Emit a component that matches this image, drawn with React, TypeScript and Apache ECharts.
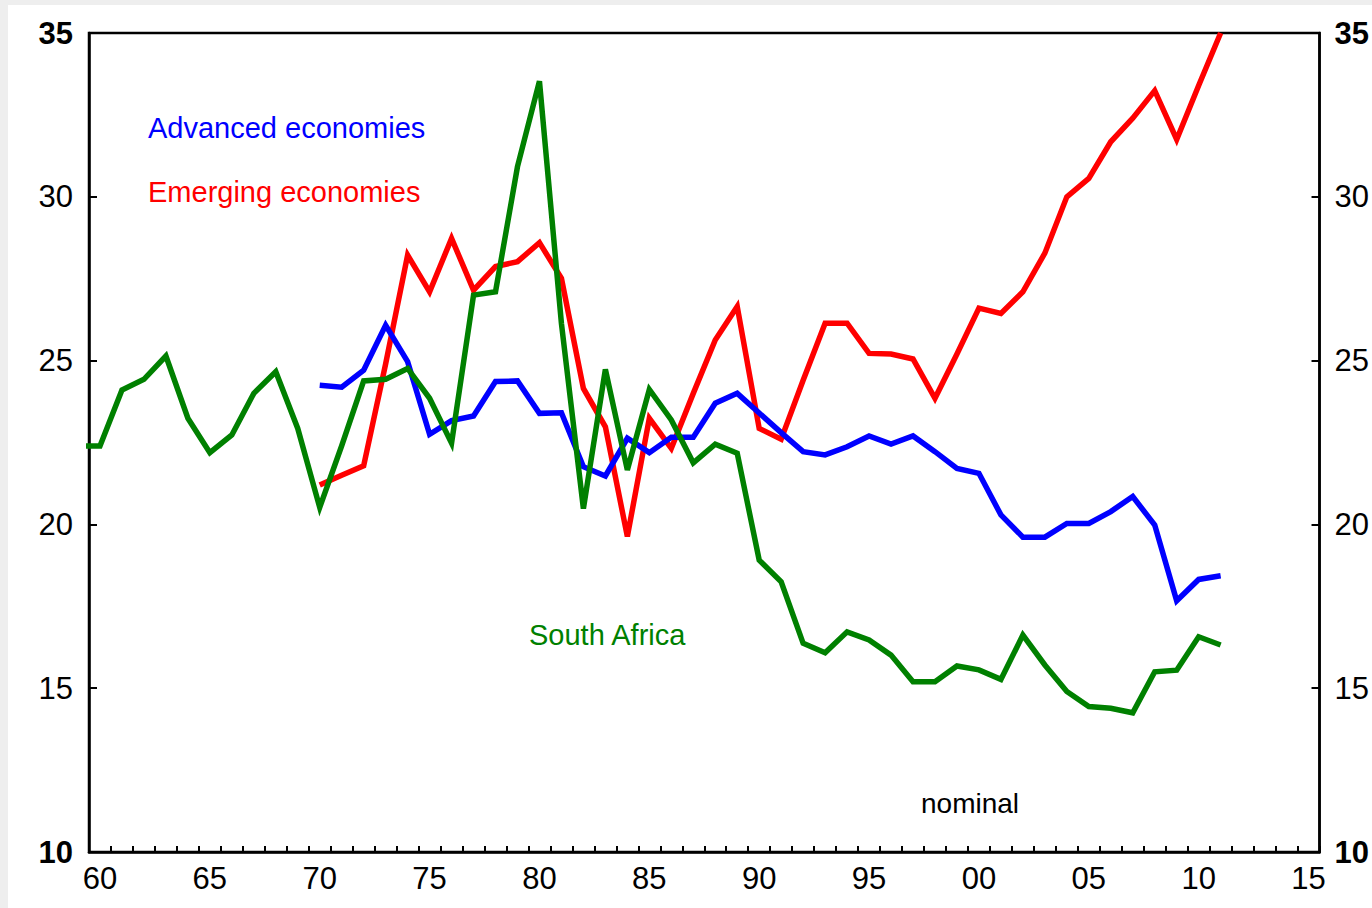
import React, { useEffect, useRef } from "react";
import * as echarts from "echarts";

// Category (year) axis: 1960 .. 2015, labelled every 5 years with two digits
const categoryYears: string[] = Array.from({ length: 56 }, (_, i) => String(1960 + i));

// South Africa (starts 1959 so the line reaches the left edge of the frame)
const southAfricaStart = 1959;
const southAfrica = [
  22.39, 22.39, 24.1, 24.43, 25.14, 23.24, 22.19, 22.73, 24.0, 24.66, 22.93,
  20.52, 22.4, 24.38, 24.43, 24.76, 23.85, 22.48, 27.0, 27.1, 30.92,
  33.53, 26.13, 20.48, 24.73, 21.66, 24.12, 23.19, 21.88, 22.45, 22.17,
  18.91, 18.25, 16.37, 16.08, 16.72, 16.47, 16.01, 15.2, 15.2, 15.68,
  15.56, 15.27, 16.62, 15.71, 14.9, 14.44, 14.39, 14.25, 15.5, 15.55,
  16.57, 16.32,
];

// Advanced economies 1970 .. 2011
const advancedStart = 1970;
const advanced = [
  24.25, 24.19, 24.71, 26.08, 24.97, 22.75, 23.17, 23.31, 24.36, 24.38,
  23.39, 23.41, 21.76, 21.48, 22.63, 22.19, 22.66, 22.66, 23.7, 24.0,
  23.4, 22.8, 22.22, 22.12, 22.37, 22.7, 22.45, 22.7, 22.22, 21.71,
  21.56, 20.29, 19.61, 19.61, 20.03, 20.03, 20.39, 20.85, 19.98, 17.67,
  18.32, 18.43,
];

// Emerging economies 1970 .. 2011
const emergingStart = 1970;
const emerging = [
  21.2, 21.5, 21.79, 24.9, 28.22, 27.1, 28.73, 27.15, 27.87, 28.02,
  28.6, 27.51, 24.15, 22.98, 19.63, 23.24, 22.32, 24.0, 25.63, 26.65,
  22.93, 22.6, 24.4, 26.14, 26.14, 25.22, 25.2, 25.05, 23.85, 25.2,
  26.6, 26.44, 27.1, 28.28, 30.0, 30.56, 31.68, 32.4, 33.24, 31.75,
  33.4, 35.0,
];

const yMin = 10;
const yMax = 35;
const yStep = 5;

const FONT = '"Liberation Sans", Arial, sans-serif';

const toPairs = (start: number, values: number[]) =>
  values.map((v, i) => [start + i, v]);

const yLabelFormatter = (v: number) =>
  v === yMin || v === yMax ? `{b|${v}}` : `${v}`;

const yLabel = (margin: number) => ({
  fontSize: 31,
  color: "#000",
  fontFamily: FONT,
  margin,
  formatter: yLabelFormatter,
  rich: { b: { fontSize: 31, fontWeight: "bold", color: "#000", fontFamily: FONT } },
});

export default function App() {
  const ref = useRef<HTMLDivElement>(null);

  useEffect(() => {
    if (!ref.current) return;
    const chart = echarts.init(ref.current, undefined, { renderer: "svg" });
    const lineSeries = (name: string, color: string, data: number[][], z: number) => ({
      type: "line",
      name,
      xAxisIndex: 1,
      yAxisIndex: 0,
      data,
      symbol: "none",
      showSymbol: false,
      clip: true,
      z,
      lineStyle: { color, width: 5.5, join: "miter", miterLimit: 4 },
      itemStyle: { color },
      emphasis: { disabled: true },
    });
    chart.setOption({
      animation: false,
      backgroundColor: "#ffffff",
      grid: {
        left: 89,
        top: 33,
        width: 1233,
        height: 819,
        show: true,
        borderColor: "#000",
        borderWidth: 2.5,
        backgroundColor: "transparent",
      },
      xAxis: [
        {
          type: "category",
          data: categoryYears,
          boundaryGap: true,
          position: "bottom",
          axisLine: { show: true, lineStyle: { color: "#000", width: 2.5 } },
          axisTick: {
            show: true,
            inside: true,
            length: 6,
            interval: 0,
            alignWithLabel: false,
            lineStyle: { color: "#000", width: 2 },
          },
          axisLabel: {
            interval: 4,
            fontSize: 31,
            color: "#000",
            fontFamily: FONT,
            margin: 11,
            formatter: (v: string) => v.slice(2),
          },
          splitLine: { show: false },
        },
        {
          type: "value",
          min: 1959.5,
          max: 2015.5,
          show: false,
          splitLine: { show: false },
        },
      ],
      yAxis: [
        {
          type: "value",
          position: "left",
          min: yMin,
          max: yMax,
          interval: yStep,
          axisLine: { show: true, lineStyle: { color: "#000", width: 2.5 } },
          axisTick: { show: true, inside: true, length: 8, lineStyle: { color: "#000", width: 2 } },
          axisLabel: yLabel(16),
          splitLine: { show: false },
        },
        {
          type: "value",
          position: "right",
          min: yMin,
          max: yMax,
          interval: yStep,
          axisLine: { show: true, lineStyle: { color: "#000", width: 2.5 } },
          axisTick: { show: true, inside: true, length: 8, lineStyle: { color: "#000", width: 2 } },
          axisLabel: yLabel(15),
          splitLine: { show: false },
        },
      ],
      series: [
        lineSeries("Emerging economies", "#ff0000", toPairs(emergingStart, emerging), 2),
        lineSeries("Advanced economies", "#0000ff", toPairs(advancedStart, advanced), 3),
        lineSeries("South Africa", "#008000", toPairs(southAfricaStart, southAfrica), 4),
      ],
      graphic: [
        { type: "rect", shape: { x: 0, y: 0, width: 8, height: 908 }, style: { fill: "#eeeeee" }, silent: true },
        { type: "rect", shape: { x: 0, y: 0, width: 1372, height: 5 }, style: { fill: "#eeeeee" }, silent: true },
        {
          type: "text",
          x: 148,
          y: 128,
          style: { text: "Advanced economies", fill: "#0000ff", fontSize: 29, fontFamily: FONT, verticalAlign: "middle", align: "left" },
        },
        {
          type: "text",
          x: 148,
          y: 192,
          style: { text: "Emerging economies", fill: "#ff0000", fontSize: 29, fontFamily: FONT, verticalAlign: "middle", align: "left" },
        },
        {
          type: "text",
          x: 529,
          y: 635,
          style: { text: "South Africa", fill: "#008000", fontSize: 29, fontFamily: FONT, verticalAlign: "middle", align: "left" },
        },
        {
          type: "text",
          x: 921,
          y: 803,
          style: { text: "nominal", fill: "#000000", fontSize: 28, fontFamily: FONT, verticalAlign: "middle", align: "left" },
        },
      ],
    });
    return () => chart.dispose();
  }, []);

  return (
    <div
      ref={ref}
      style={{ position: "absolute", left: 0, top: 0, width: 1372, height: 908 }}
    />
  );
}
